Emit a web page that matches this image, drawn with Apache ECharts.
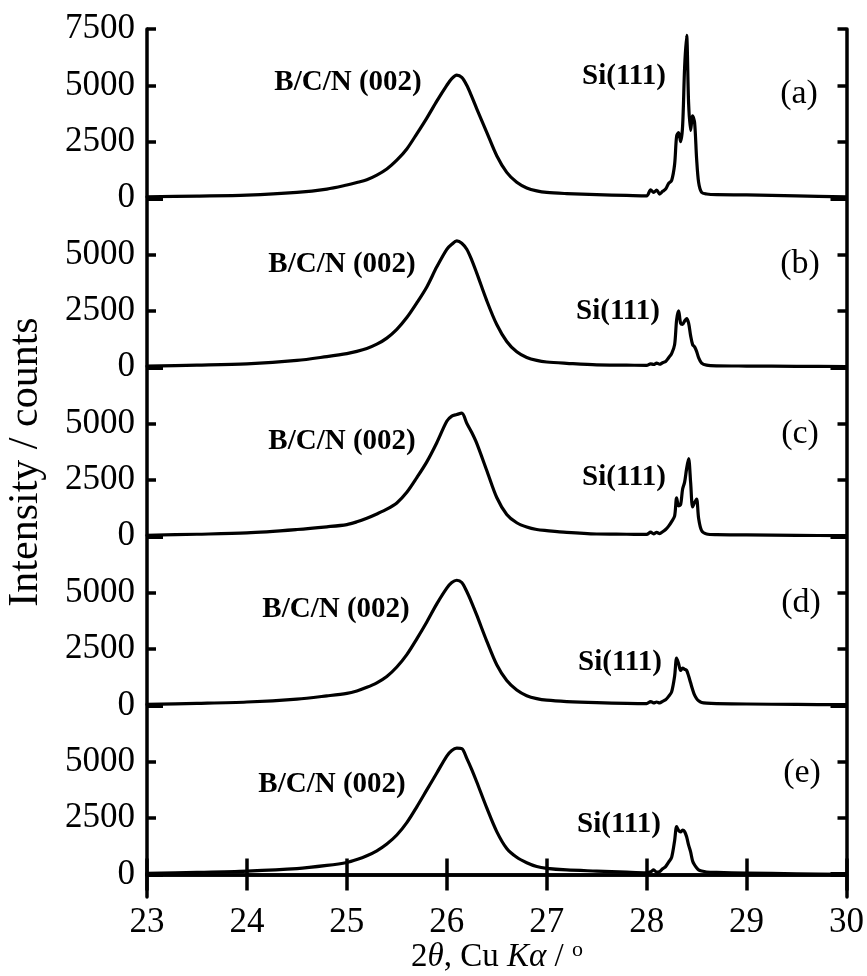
<!DOCTYPE html>
<html>
<head>
<meta charset="utf-8">
<script src="https://cdn.jsdelivr.net/npm/echarts@6/dist/echarts.min.js"></script>
<style>
  html, body { margin: 0; padding: 0; background: #fff; }
  #chart { width: 867px; height: 976px; }
</style>
</head>
<body>
<div id="chart"></div>
<script>
// 2theta positions shared by all five scans
const twoTheta = [23.0, 23.5, 24.0, 24.5, 24.8, 25.0, 25.1, 25.2, 25.3, 25.4, 25.5, 25.6, 25.7, 25.8, 25.9,
  26.0, 26.05, 26.1, 26.15, 26.2, 26.25, 26.3, 26.4, 26.5, 26.6, 26.7, 26.8, 26.9, 27.0, 27.2, 27.5, 27.8,
  28.0, 28.04, 28.07, 28.1, 28.13, 28.16, 28.19, 28.22, 28.25, 28.28, 28.3, 28.32, 28.34, 28.36, 28.38,
  28.4, 28.42, 28.44, 28.46, 28.48, 28.5, 28.52, 28.55, 28.6, 28.7, 29.0, 29.5, 30.0]

// intensities (counts)
const scanA = [60, 90, 130, 250, 400, 580, 690, 815, 1020, 1290, 1680, 2180, 2850, 3550, 4300,
  5000, 5300, 5450, 5350, 5000, 4500, 3960, 2920, 1880, 1140, 700, 450, 320, 250, 200, 150, 120,
  100, 370, 250, 355, 180, 300, 400, 650, 780, 1500, 2750, 2900, 2500, 3200, 5800,
  7220, 4200, 3000, 3650, 3350, 1750, 700, 250, 180, 150, 140, 100, 50]
const scanB = [45, 90, 150, 300, 470, 600, 700, 830, 1020, 1290, 1680, 2200, 2850, 3560, 4450,
  5230, 5450, 5600, 5500, 5230, 4750, 4170, 2950, 1890, 1140, 680, 430, 300, 230, 170, 100, 90,
  80, 150, 120, 180, 130, 200, 250, 420, 600, 1000, 2100, 2500, 1950, 1900, 2050,
  2150, 1950, 1400, 1000, 900, 700, 420, 180, 90, 60, 50, 40, 30]
const scanC = [45, 90, 150, 300, 420, 520, 640, 800, 990, 1200, 1480, 1950, 2600, 3300, 4150,
  5100, 5330, 5400, 5460, 5010, 4600, 4120, 2920, 1720, 970, 600, 410, 300, 250, 170, 100, 90,
  80, 180, 110, 170, 120, 200, 300, 450, 650, 900, 1700, 1350, 1400, 2100, 2400,
  3000, 3440, 2400, 1300, 1500, 1650, 800, 250, 100, 70, 60, 40, 30]
const scanD = [45, 90, 150, 280, 420, 530, 640, 800, 1000, 1280, 1700, 2250, 2950, 3700, 4500,
  5200, 5450, 5550, 5450, 5050, 4550, 4000, 2850, 1800, 1100, 680, 430, 300, 230, 170, 120, 90,
  80, 170, 110, 150, 110, 180, 250, 400, 600, 1300, 2100, 1850, 1550, 1650, 1600,
  1550, 1300, 1000, 700, 450, 300, 200, 130, 100, 80, 60, 40, 30]
const scanE = [45, 90, 150, 260, 400, 530, 660, 830, 1050, 1350, 1750, 2300, 3000, 3750, 4500,
  5250, 5500, 5600, 5580, 5150, 4650, 4100, 2950, 1900, 1150, 760, 520, 350, 270, 200, 150, 100,
  75, 120, 200, 100, 130, 250, 350, 550, 760, 1500, 2120, 1950, 1890, 1970, 1900,
  1670, 1300, 1000, 600, 420, 300, 200, 150, 110, 90, 60, 30, 0]

const scans = [scanA, scanB, scanC, scanD, scanE]
const panelNames = ['(a)', '(b)', '(c)', '(d)', '(e)']
const panelStep = 7500 // vertical offset between stacked panels
const yTicks = [0, 2500, 5000, 7500, 10000, 12500, 15000, 17500, 20000, 22500, 25000, 27500, 30000, 32500, 35000, 37500]
const zeroTicks = [0, 7500, 15000, 22500, 30000]

const serif = 'Liberation Serif, Times New Roman, serif'

const chart = echarts.init(document.getElementById('chart'), null, { renderer: 'canvas' })

const series = scans.map((scan, i) => {
  const offset = (scans.length - 1 - i) * panelStep
  return {
    name: panelNames[i],
    type: 'line',
    showSymbol: false,
    symbol: 'none',
    smooth: 0.3,
    xAxisIndex: 0,
    yAxisIndex: 0,
    lineStyle: { color: '#000', width: 3.2, join: 'round', cap: 'round' },
    data: twoTheta.map((x, k) => [x, scan[k] + offset])
  }
})

function yAxisBase(pos) {
  return {
    type: 'value',
    position: pos,
    min: -1000,
    max: 37500,
    splitLine: { show: false },
    axisLine: { show: true, lineStyle: { color: '#000', width: 3.5 } },
    axisTick: { show: true, inside: true, length: 9, customValues: yTicks, lineStyle: { color: '#000', width: 3.5 } },
    axisLabel: { show: false }
  }
}

const leftAxis = yAxisBase('left')
leftAxis.axisLabel = {
  show: true,
  customValues: yTicks,
  margin: 12,
  color: '#000',
  fontFamily: serif,
  fontSize: 35,
  formatter: v => (v === 37500 ? '7500' : String(v % panelStep))
}

function zeroAxis(pos) {
  return {
    type: 'value',
    position: pos,
    min: -1000,
    max: 37500,
    splitLine: { show: false },
    axisLine: { show: false },
    axisLabel: { show: false },
    axisTick: { show: true, inside: true, length: 16, customValues: zeroTicks, lineStyle: { color: '#000', width: 5 } }
  }
}

function xAxisBase(pos, labels) {
  return {
    type: 'value',
    position: pos,
    min: 23,
    max: 30,
    interval: 1,
    splitLine: { show: false },
    axisLine: { show: true, lineStyle: { color: '#000', width: 3.5 } },
    axisTick: { show: true, inside: true, length: 16, lineStyle: { color: '#000', width: 3.5 } },
    axisLabel: labels
      ? { show: true, margin: 8, color: '#000', fontFamily: serif, fontSize: 35 }
      : { show: false }
  }
}

// annotation text
const bcnPos = [[348, 83], [342, 265], [342, 442], [336, 610], [332, 785]]
const siPos = [[624, 77], [618, 312], [624, 478], [620, 663], [619, 825]]
const tagPos = [[799, 94], [800, 264], [800, 434], [801, 603], [802, 773]]

const graphics = []
panelNames.forEach((name, i) => {
  graphics.push({
    type: 'text', x: bcnPos[i][0], y: bcnPos[i][1],
    style: { text: 'B/C/N (002)', fill: '#000', font: 'bold 29px ' + serif, align: 'center', verticalAlign: 'middle' }
  })
  graphics.push({
    type: 'text', x: siPos[i][0], y: siPos[i][1],
    style: { text: 'Si(111)', fill: '#000', font: 'bold 29px ' + serif, align: 'center', verticalAlign: 'middle' }
  })
  graphics.push({
    type: 'text', x: tagPos[i][0], y: tagPos[i][1],
    style: { text: name, fill: '#000', font: '34px ' + serif, align: 'center', verticalAlign: 'middle' }
  })
})

// axis titles
graphics.push({
  type: 'text', x: 26, y: 462, rotation: Math.PI / 2,
  style: { text: 'Intensity / counts', fill: '#000', font: '42px ' + serif, align: 'center', verticalAlign: 'middle' }
})
graphics.push({
  type: 'text', x: 497, y: 957,
  style: {
    text: '{n|2}{i|θ}{n|, Cu }{i|Kα}{n| / }{s|o}',
    align: 'center',
    verticalAlign: 'middle',
    rich: {
      n: { fontFamily: serif, fontSize: 33, fill: '#000', color: '#000' },
      i: { fontFamily: serif, fontSize: 33, fontStyle: 'italic', fill: '#000', color: '#000' },
      s: { fontFamily: serif, fontSize: 22, fill: '#000', color: '#000', verticalAlign: 'top', padding: [0, 0, 14, 0] }
    }
  }
})

const option = {
  animation: false,
  backgroundColor: '#fff',
  grid: { left: 147, right: 20, top: 29, bottom: 79 },
  xAxis: [xAxisBase('bottom', true), xAxisBase('top', false)],
  yAxis: [leftAxis, yAxisBase('right'), zeroAxis('left'), zeroAxis('right')],
  series: series,
  graphic: graphics
}

chart.setOption(option)
</script>
</body>
</html>
